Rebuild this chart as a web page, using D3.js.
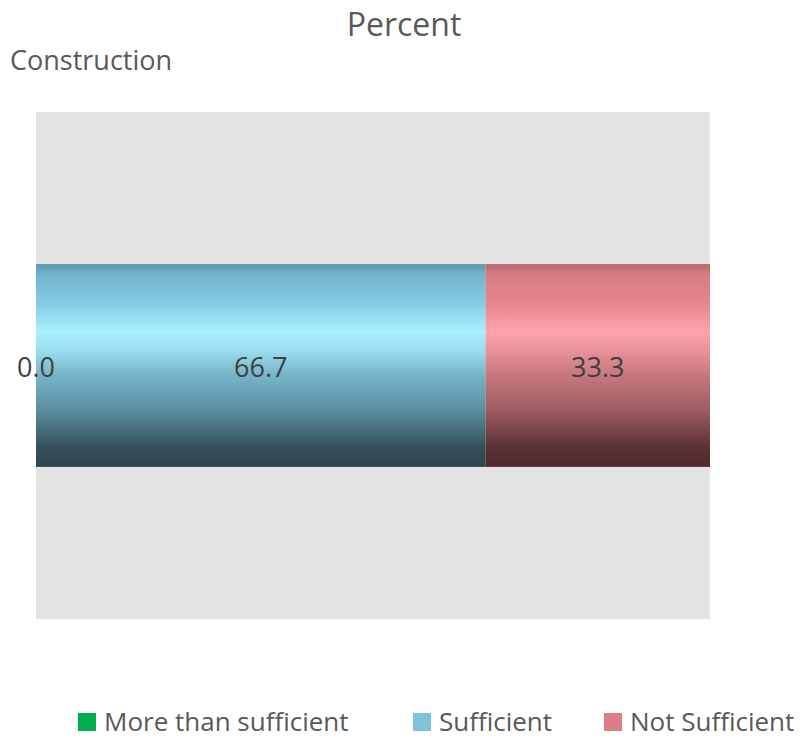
<!DOCTYPE html>
<html><head><meta charset="utf-8">
<script src="https://cdn.jsdelivr.net/npm/d3@7"></script>
<style>body{margin:0;background:#fff}svg{display:block}text{font-family:"Open Sans",sans-serif;fill:#595959}</style>
</head><body>
<svg id="c" width="811" height="739"></svg>
<script>
const categories = ["Construction"];
const seriesNames = ["More than sufficient", "Sufficient", "Not Sufficient"];
const seriesValues = [[0.0], [66.7], [33.3]];
const seriesColors = ["#00b050", "#7fc2dc", "#db7f86"];
const gradStops = [
  [["0", "#00a040"], ["0.35", "#40ff90"], ["1", "#004020"]],
  [["0", "#5d97aa"], ["0.05", "#72b4cb"], ["0.2", "#84cde6"], ["0.33", "#a9f1ff"], ["0.42", "#9be0f2"], ["0.55", "#77b3c7"], ["0.72", "#5a8ea0"], ["0.9", "#34505b"], ["1", "#2f4650"]],
  [["0", "#b06a71"], ["0.05", "#d77c84"], ["0.2", "#e6868e"], ["0.33", "#ffa4ad"], ["0.42", "#eb939b"], ["0.55", "#c6777d"], ["0.72", "#9e5c62"], ["0.9", "#5a3237"], ["1", "#4f2a2f"]]
];

const svg = d3.select("#c");
const plot = {x0: 36, x1: 710, y0: 112, y1: 619};

const x = d3.scaleLinear().domain([0, 100]).range([plot.x0, plot.x1]);
const y = d3.scaleBand().domain(categories).range([plot.y0, plot.y1]).paddingInner(0.6).paddingOuter(0.3);

const defs = svg.append("defs");
gradStops.forEach((st, i) => {
  const g = defs.append("linearGradient").attr("id", "g" + i).attr("x1", 0).attr("y1", 0).attr("x2", 0).attr("y2", 1);
  st.forEach(s => g.append("stop").attr("offset", s[0]).attr("stop-color", s[1]));
});

svg.append("rect").attr("x", plot.x0).attr("y", plot.y0).attr("width", plot.x1 - plot.x0).attr("height", plot.y1 - plot.y0).attr("fill", "#e3e3e3");

const stacked = d3.stack().keys(d3.range(seriesNames.length)).value((d, k) => seriesValues[k][d])(d3.range(categories.length));

stacked.forEach((layer, i) => {
  layer.forEach((seg, j) => {
    svg.append("rect")
      .attr("x", x(seg[0])).attr("width", x(seg[1]) - x(seg[0]))
      .attr("y", y(categories[j])).attr("height", y.bandwidth())
      .attr("fill", "url(#g" + i + ")");
  });
});
stacked.forEach((layer, i) => {
  layer.forEach((seg, j) => {
    svg.append("text")
      .attr("x", (x(seg[0]) + x(seg[1])) / 2)
      .attr("y", y(categories[j]) + y.bandwidth() / 2 + 11)
      .attr("text-anchor", "middle")
      .attr("font-size", 27).style("fill", "#404040")
      .text(d3.format(".1f")(seriesValues[i][j]));
  });
});

svg.append("text").attr("x", 404).attr("y", 36).attr("text-anchor", "middle").attr("font-size", 32).text("Percent");
svg.append("text").attr("x", 10).attr("y", 70).attr("font-size", 27).text(categories[0]);

// legend
const legX = [78, 413, 604];
seriesNames.forEach((n, i) => {
  const g = svg.append("g").attr("transform", `translate(${legX[i]},713)`);
  g.append("rect").attr("width", 18).attr("height", 18).attr("fill", seriesColors[i]);
  g.append("text").attr("x", 26).attr("y", 18).attr("font-size", 26).text(n);
});
</script>
</body></html>
